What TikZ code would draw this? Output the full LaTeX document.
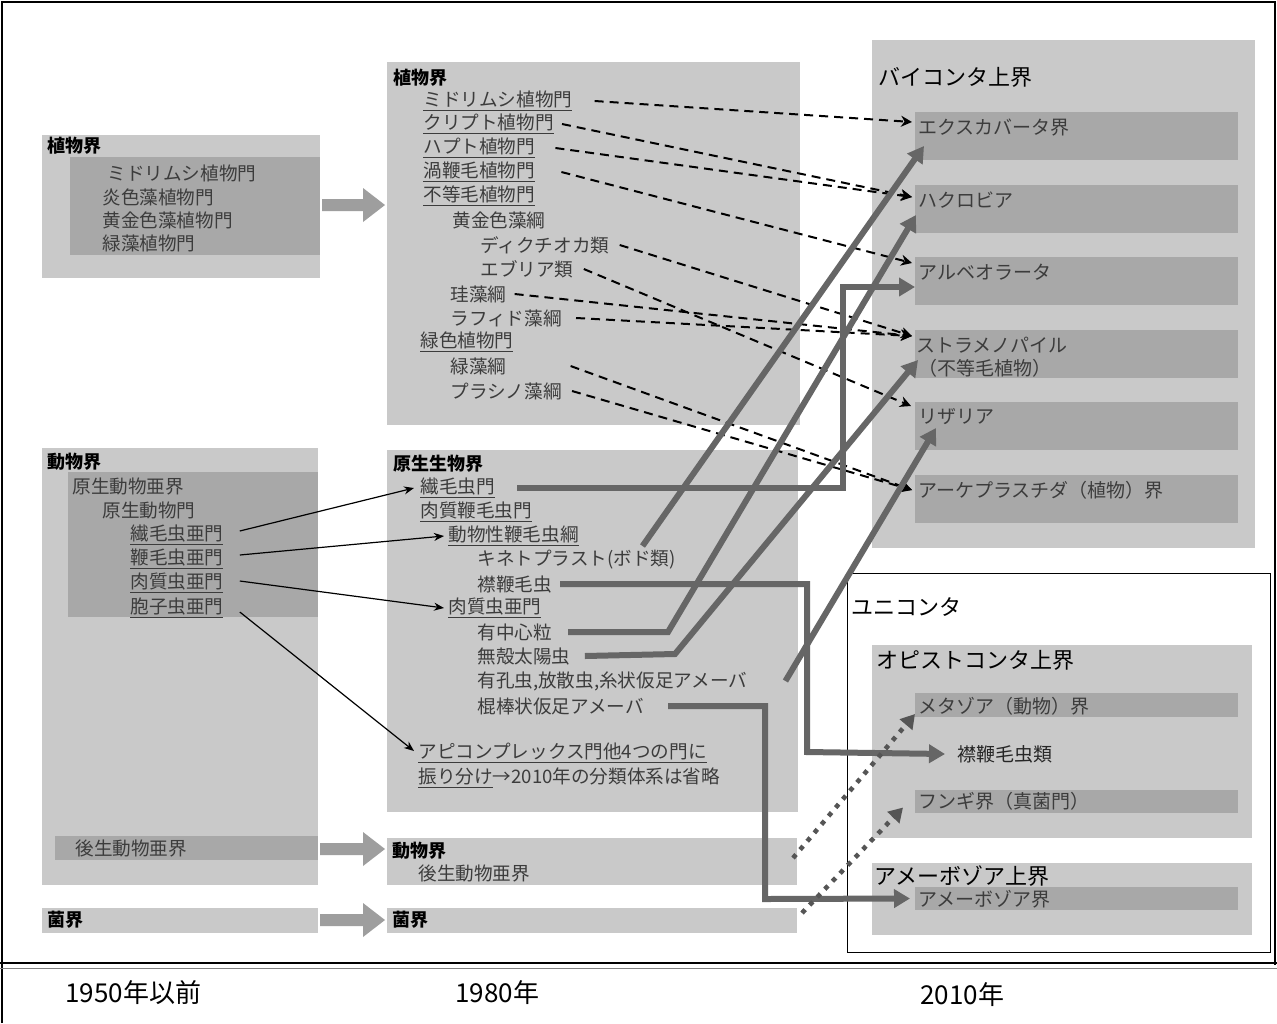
\documentclass[tikz,border=0pt]{standalone}
\usepackage{fontspec}
\setmainfont{Noto Sans CJK JP}
\usetikzlibrary{arrows.meta,calc}
\definecolor{boxL}{HTML}{C9C9C9}
\definecolor{boxD}{HTML}{A8A8A8}
\definecolor{txtG}{HTML}{3C3C3C}
\definecolor{thickC}{HTML}{666666}
\definecolor{dotC}{HTML}{555555}
\definecolor{blkC}{HTML}{9E9E9E}
\newcommand{\myul}[1]{\underline{#1}}
\newcommand{\rbox}[6]{\node[#1,anchor=north west,inner sep=0pt,outer sep=0pt,minimum width={(#4-#2)*0.5pt},minimum height={(#5-#3)*0.5pt}] (#6) at (#2,#3) {};}
\newcommand{\barrow}[3]{\fill[blkC] (#1,#3-6) -- (#2-22,#3-6) -- (#2-22,#3-17) -- (#2,#3) -- (#2-22,#3+17) -- (#2-22,#3+6) -- (#1,#3+6) -- cycle;}
\begin{document}
\begin{tikzpicture}[x=0.5pt,y=-0.5pt,
  lbox/.style={fill=boxL,draw=none},
  dbox/.style={fill=boxD,draw=none},
  t/.style={anchor=west,inner sep=0pt,text=txtG,font=\fontsize{9.3}{10}\selectfont},
  tb/.style={anchor=west,inner sep=0pt,text=black,font=\fontsize{9}{10}\selectfont\bfseries},
  tt/.style={anchor=west,inner sep=0pt,text=black,font=\fontsize{11}{12}\selectfont},
  tr/.style={anchor=west,inner sep=0pt,text=txtG,font=\fontsize{9.5}{10}\selectfont},
  yr/.style={anchor=west,inner sep=0pt,text=black,font=\fontsize{13}{14}\selectfont},
  dsh/.style={draw=black,line width=1pt,dash pattern=on 4.5pt off 3pt,-{Stealth[length=5.5pt,width=5.5pt]}},
  thk/.style={draw=thickC,line width=3pt,line join=miter,-{Triangle[length=8pt,width=9pt]}},
  thn/.style={draw=black,line width=0.6pt,-{Stealth[length=5pt,width=4pt]}},
  dtd/.style={draw=dotC,line width=2.3pt,dash pattern=on 2.3pt off 3.2pt,-{Triangle[length=7pt,width=8pt]}},
]
\useasboundingbox (0,0) rectangle (1277,1023);
\fill[white] (0,0) rectangle (1277,1023);
% frame
\draw[line width=0.7pt] (2,1023) -- (2,2) -- (1275,2) -- (1275,965);
\draw[line width=0.8pt] (0,963) -- (1277,963);
\draw[line width=0.5pt,gray] (0,968) -- (1277,968);

% ---------- 1950 ----------
\rbox{lbox}{42}{135}{320}{278}{pl50}
\rbox{dbox}{70}{157}{320}{255}{pl50in}
\node[tb] (pl50t) at (47,146) {植物界};
\node[t] (a1) at (107,173) {ミドリムシ植物門};
\node[t] (a2) at (102,197) {炎色藻植物門};
\node[t] (a3) at (102,220) {黄金色藻植物門};
\node[t] (a4) at (102,243) {緑藻植物門};

\rbox{lbox}{42}{448}{318}{885}{an50}
\rbox{dbox}{68}{472}{318}{617}{an50in}
\node[tb] (an50t) at (47,462) {動物界};
\node[t] (b1) at (72,486) {原生動物亜界};
\node[t] (b2) at (102,510) {原生動物門};
\node[t] (b3) at (130,535) {\myul{繊毛虫亜門}};
\node[t] (b4) at (130,559) {\myul{鞭毛虫亜門}};
\node[t] (b5) at (130,583) {\myul{肉質虫亜門}};
\node[t] (b6) at (130,608) {\myul{胞子虫亜門}};
\rbox{dbox}{55}{836}{318}{860}{me50}
\node[t] (b7) at (75,848) {後生動物亜界};
\rbox{lbox}{42}{908}{318}{933}{fu50}
\node[tb] (b8) at (47,920) {菌界};

% ---------- 1980 ----------
\rbox{lbox}{387}{62}{800}{425}{pl80}
\node[tb] (pl80t) at (393,78) {植物界};
\node[t] (c1) at (423,101) {\myul{ミドリムシ植物門}};
\node[t] (c2) at (423,124) {\myul{クリプト植物門}};
\node[t] (c3) at (423,148) {\myul{ハプト植物門}};
\node[t] (c4) at (423,172) {\myul{渦鞭毛植物門}};
\node[t] (c5) at (423,196) {\myul{不等毛植物門}};
\node[t] (c6) at (452,220) {黄金色藻綱};
\node[t] (c7) at (480,245) {ディクチオカ類};
\node[t] (c8) at (480,269) {エブリア類};
\node[t] (c9) at (450,294) {珪藻綱};
\node[t] (c10) at (450,318) {ラフィド藻綱};
\node[t] (c11) at (420,342) {\myul{緑色植物門}};
\node[t] (c12) at (450,366) {緑藻綱};
\node[t] (c13) at (450,391) {プラシノ藻綱};

\rbox{lbox}{387}{450}{798}{812}{pr80}
\node[tb] (pr80t) at (393,464) {原生生物界};
\node[t] (d1) at (420,488) {\myul{繊毛虫門}};
\node[t] (d2) at (420,512) {\myul{肉質鞭毛虫門}};
\node[t] (d3) at (448,536) {\myul{動物性鞭毛虫綱}};
\node[t] (d4) at (477,560) {キネトプラスト(ボド類)};
\node[t] (d5) at (477,584) {襟鞭毛虫};
\node[t] (d6) at (448,608) {\myul{肉質虫亜門}};
\node[t] (d7) at (477,632) {有中心粒};
\node[t] (d8) at (477,656) {無殻太陽虫};
\node[t] (d9) at (477,681) {有孔虫,放散虫,糸状仮足アメーバ};
\node[t] (d10) at (477,706) {棍棒状仮足アメーバ};
\node[t] (d11) at (418,753) {\myul{アピコンプレックス門他4つの門に}};
\node[t] (d12) at (418,778) {\myul{振り分け}→2010年の分類体系は省略};

\rbox{lbox}{387}{838}{797}{885}{an80}
\node[tb] (an80t) at (392,851) {動物界};
\node[t] (e1) at (418,873) {後生動物亜界};
\rbox{lbox}{387}{908}{797}{933}{fu80}
\node[tb] (fu80t) at (392,920) {菌界};

% block arrows
\barrow{322}{385}{205}
\barrow{320}{385}{849}
\barrow{320}{385}{920}

% ---------- 2010 ----------
\rbox{lbox}{872}{40}{1255}{548}{bik}
\node[tt] (bikt) at (878,77) {バイコンタ上界};
\rbox{dbox}{915}{112}{1238}{160}{bExc}
\node[tr] (f1) at (918,128) {エクスカバータ界};
\rbox{dbox}{915}{185}{1238}{233}{bHac}
\node[tr] (f2) at (918,200) {ハクロビア};
\rbox{dbox}{915}{257}{1238}{305}{bAlv}
\node[tr] (f3) at (918,272) {アルベオラータ};
\rbox{dbox}{915}{330}{1238}{378}{bStr}
\node[tr] (f4) at (916,345) {ストラメノパイル};
\node[tr] (f4b) at (918,368) {（不等毛植物）};
\rbox{dbox}{915}{402}{1238}{450}{bRhi}
\node[tr] (f5) at (918,417) {リザリア};
\rbox{dbox}{915}{475}{1238}{523}{bArc}
\node[tr] (f6) at (918,490) {アーケプラスチダ（植物）界};

\node[draw=black,line width=0.6pt,fill=white,anchor=north west,inner sep=0pt,minimum width={(1270-847)*0.5pt},minimum height={(952-573)*0.5pt}] (uni) at (847,573) {};
\node[tt] (unit) at (851,607) {ユニコンタ};
\rbox{lbox}{872}{645}{1252}{838}{opi}
\node[tt] (opit) at (876,660) {オピストコンタ上界};
\rbox{dbox}{915}{693}{1238}{717}{bMet}
\node[tr] (g1) at (918,706) {メタゾア（動物）界};
\node[tr,text=black!85] (g2) at (957,754) {襟鞭毛虫類};
\rbox{dbox}{915}{790}{1238}{813}{bFun}
\node[tr] (g3) at (918,801) {フンギ界（真菌門）};
\rbox{lbox}{872}{863}{1252}{935}{amo}
\node[tt] (amot) at (874,876) {アメーボゾア上界};
\rbox{dbox}{915}{887}{1238}{910}{bAmo}
\node[tr] (g4) at (918,899) {アメーボゾア界};

% years
\node[yr] (y1) at (65,993) {1950年以前};
\node[yr] (y2) at (455,993) {1980年};
\node[yr] (y3) at (920,995) {2010年};

% ---------- connectors ----------
% thin arrows 1950 -> 1980
\draw[thn] ([xshift=8pt,yshift=2pt]b3.east) -- ([xshift=-3pt]d1.west);
\draw[thn] ([xshift=8pt,yshift=2pt]b4.east) -- ([xshift=-2pt]d3.west);
\draw[thn] ([xshift=8pt,yshift=1pt]b5.east) -- ([xshift=-2pt]d6.west);
\draw[thn] ([xshift=8pt,yshift=-2pt]b6.east) -- ([xshift=-2pt,yshift=1pt]d11.west);

% dashed arrows
\draw[dsh] ([xshift=11pt]c1.east) -- ($(bExc.north west)+(-3,10)$);
\draw[dsh] ([xshift=4pt]c2.east) -- ($(bHac.north west)+(-3,12)$);
\draw[dsh] ([xshift=10pt]c3.east) -- ($(bHac.north west)+(-3,12)$);
\draw[dsh] ([xshift=13pt]c4.east) -- ($(bAlv.north west)+(-3,6)$);
\draw[dsh] ([xshift=5pt]c7.east) -- ($(bStr.north west)+(-3,6)$);
\draw[dsh] ([xshift=5pt]c8.east) -- ($(bRhi.north west)+(-4,4)$);
\draw[dsh] ([xshift=4pt]c9.east) -- ($(bStr.north west)+(-3,6)$);
\draw[dsh] ([xshift=7pt]c10.east) -- ($(bStr.north west)+(-3,6)$);
\draw[dsh] ([xshift=32pt]c12.east) -- ($(bArc.north west)+(-3,15)$);
\draw[dsh] ([xshift=5pt]c13.east) -- ($(bArc.north west)+(-3,15)$);

% thick arrows
\draw[thk] ($(d4.center)+(66,-14)$) -- ($(bExc.north west)+(9,34)$);
\draw[thk] ([xshift=11pt]d1.east) -| (843,287) -- ($(bAlv.north west)+(0,30)$);
\draw[thk] ([xshift=8pt]d7.east) -- (668,632) -- ($(bHac.north west)+(1,30)$);
\draw[thk] ([xshift=7pt]d8.east) -- (675,654) -- ($(bStr.north west)+(3,30)$);
\draw[thk] ($(d9.east)+(38,0)$) -- ($(bRhi.north west)+(21,26)$);
\draw[thk] ([xshift=4pt]d5.east) -| (807,752) -- ([xshift=-6pt]g2.west);
\draw[thk] ([xshift=12pt]d10.east) -| (765,899) -- ($(bAmo.west)+(-5,0)$);

% dotted arrows
\coordinate (p1) at (793,858);
\coordinate (p2) at (802,913);
\draw[dtd] (p1) -- ($(bMet.south west)+(0,-3)$);
\draw[dtd] (p2) -- ($(bFun.west)+(-12,6)$);
\end{tikzpicture}
\end{document}
